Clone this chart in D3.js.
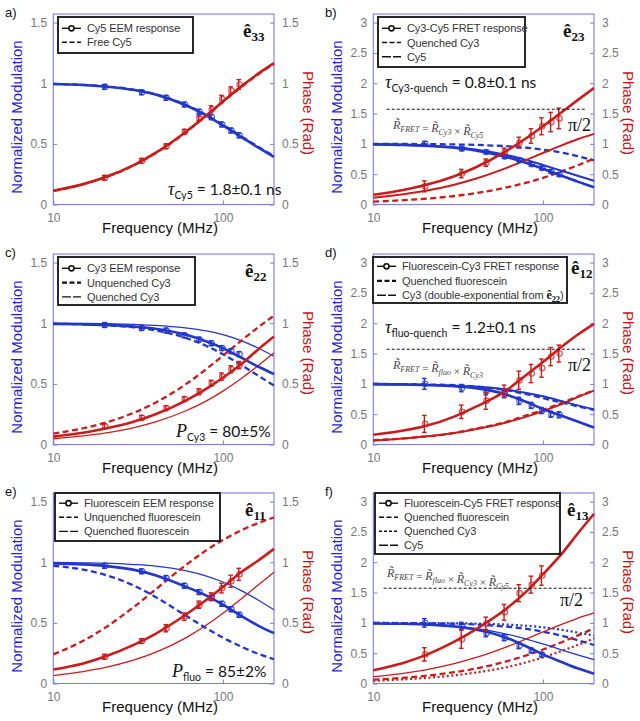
<!DOCTYPE html>
<html><head><meta charset="utf-8">
<script src="https://cdn.jsdelivr.net/npm/d3@7"></script>
<style>body{margin:0;background:#fff}svg{display:block}</style>
</head><body>
<svg id="c" width="640" height="721"></svg>
<script>
// ---------- data ----------
const freqGrid = [10, 15, 20, 30, 40, 60, 80, 100, 130, 160, 200];
const dataFreqs = [20, 33, 46, 59, 72, 85, 98, 111, 124];
const ticksHalfPi = [0, 0.5, 1, 1.5];
const ticksPi = [0, 0.5, 1, 1.5, 2, 2.5, 3];
const xTickValues = [10, 100];

// panel a
const aFitMod  = [0.993,0.985,0.973,0.944,0.907,0.820,0.733,0.652,0.552,0.473,0.392];
const aFitPh   = [0.113,0.168,0.222,0.327,0.425,0.596,0.736,0.850,0.980,1.075,1.165];
const aFreeMod = [0.994,0.986,0.975,0.946,0.909,0.824,0.737,0.657,0.557,0.479,0.398];
const aFreePh  = [0.112,0.167,0.221,0.325,0.423,0.593,0.733,0.846,0.975,1.070,1.160];
const aPtMod    = [0.97,0.925,0.88,0.825,0.765,0.72,0.66,0.61,0.57];
const aPtModErr = [0.02,0.02,0.02,0.02,0.02,0.02,0.02,0.02,0.02];
const aPtPh     = [0.22,0.36,0.48,0.60,0.71,0.785,0.87,0.94,0.99];
const aPtPhErr  = [0.02,0.02,0.02,0.02,0.02,0.03,0.03,0.03,0.04];

// panel b
const bFretMod = [0.992,0.983,0.969,0.935,0.892,0.789,0.686,0.590,0.471,0.377,0.285];
const bFretPh  = [0.160,0.239,0.316,0.467,0.611,0.872,1.096,1.290,1.530,1.721,1.921];
const bCy3Mod  = [0.999,0.998,0.996,0.990,0.983,0.962,0.936,0.905,0.853,0.798,0.728];
const bCy3Ph   = [0.047,0.071,0.094,0.140,0.186,0.276,0.360,0.440,0.550,0.646,0.756];
const bCy5Mod  = [0.993,0.985,0.973,0.944,0.907,0.820,0.733,0.652,0.552,0.473,0.392];
const bCy5Ph   = [0.113,0.168,0.222,0.327,0.425,0.596,0.736,0.850,0.980,1.075,1.165];
const bPtMod    = [1.0,0.92,0.865,0.79,0.735,0.665,0.60,0.545,0.495];
const bPtModErr = [0.04,0.03,0.03,0.03,0.03,0.03,0.03,0.03,0.03];
const bPtPh     = [0.30,0.51,0.69,0.87,1.02,1.13,1.29,1.36,1.42];
const bPtPhErr  = [0.09,0.07,0.06,0.06,0.09,0.12,0.14,0.16,0.17];

// panel c
const cFitMod = [0.995,0.991,0.986,0.972,0.955,0.907,0.850,0.795,0.712,0.645,0.580];
const cFitPh  = [0.065,0.097,0.130,0.190,0.250,0.360,0.460,0.550,0.670,0.780,0.890];
const cUnqMod = [0.996,0.991,0.984,0.965,0.941,0.880,0.812,0.744,0.650,0.571,0.486];
const cUnqPh  = [0.090,0.134,0.178,0.263,0.345,0.494,0.623,0.732,0.863,0.963,1.063];
const cQMod   = [0.999,0.998,0.996,0.990,0.983,0.962,0.936,0.905,0.853,0.798,0.728];
const cQPh    = [0.047,0.071,0.094,0.140,0.186,0.276,0.360,0.440,0.550,0.646,0.756];
const cPtMod    = [0.985,0.96,0.94,0.90,0.865,0.835,0.795,0.77,0.745];
const cPtModErr = [0.02,0.02,0.02,0.02,0.02,0.02,0.02,0.02,0.02];
const cPtPh     = [0.15,0.22,0.30,0.375,0.435,0.505,0.56,0.62,0.655];
const cPtPhErr  = [0.02,0.02,0.02,0.02,0.025,0.025,0.03,0.03,0.03];

// panel d
const dFretMod = [0.995,0.990,0.980,0.960,0.930,0.830,0.700,0.585,0.470,0.380,0.280];
const dFretPh  = [0.16,0.23,0.30,0.46,0.62,0.88,1.15,1.36,1.62,1.81,1.99];
const dQfMod   = [0.998,0.995,0.990,0.978,0.958,0.898,0.830,0.765,0.690,0.630,0.570];
const dQfPh    = [0.07,0.10,0.13,0.19,0.26,0.37,0.48,0.57,0.69,0.79,0.89];
const dCy3Mod  = [0.995,0.991,0.986,0.972,0.955,0.907,0.850,0.795,0.712,0.645,0.580];
const dCy3Ph   = [0.065,0.097,0.130,0.190,0.250,0.360,0.460,0.550,0.670,0.780,0.890];
const dPtMod    = [1.0,0.93,0.88,0.83,0.72,0.645,0.56,0.50,0.49];
const dPtModErr = [0.09,0.06,0.06,0.06,0.06,0.05,0.05,0.05,0.05];
const dPtPh     = [0.34,0.54,0.72,0.88,1.06,1.17,1.26,1.45,1.50];
const dPtPhErr  = [0.14,0.11,0.14,0.10,0.15,0.15,0.15,0.15,0.14];

// panel e
const eFitMod = [0.990,0.982,0.970,0.937,0.893,0.800,0.725,0.650,0.552,0.480,0.415];
const eFitPh  = [0.115,0.165,0.220,0.320,0.410,0.565,0.690,0.795,0.925,1.010,1.110];
const eUnqMod = [0.971,0.939,0.898,0.806,0.714,0.562,0.455,0.378,0.300,0.247,0.200];
const eUnqPh  = [0.240,0.352,0.456,0.634,0.775,0.973,1.100,1.183,1.267,1.321,1.369];
const eQMod   = [0.998,0.995,0.992,0.981,0.968,0.931,0.886,0.837,0.762,0.691,0.608];
const eQPh    = [0.065,0.098,0.130,0.194,0.256,0.374,0.482,0.579,0.705,0.808,0.918];
const ePtMod    = [0.97,0.925,0.87,0.806,0.754,0.704,0.657,0.613,0.566];
const ePtModErr = [0.02,0.02,0.02,0.02,0.02,0.02,0.02,0.02,0.02];
const ePtPh     = [0.22,0.35,0.456,0.552,0.65,0.718,0.787,0.843,0.90];
const ePtPhErr  = [0.02,0.02,0.03,0.03,0.03,0.03,0.04,0.05,0.05];

// panel f
const fFretMod = [0.990,0.985,0.975,0.940,0.890,0.760,0.610,0.480,0.350,0.250,0.160];
const fFretPh  = [0.22,0.34,0.46,0.69,0.89,1.22,1.52,1.80,2.15,2.47,2.80];
const fQfMod   = [0.998,0.996,0.993,0.985,0.973,0.940,0.900,0.855,0.785,0.715,0.635];
const fQfPh    = [0.063,0.094,0.125,0.186,0.245,0.360,0.465,0.560,0.685,0.790,0.910];
const fQcMod   = [0.999,0.998,0.997,0.993,0.988,0.973,0.952,0.927,0.885,0.840,0.790];
const fQcPh    = [0.045,0.068,0.090,0.135,0.180,0.265,0.350,0.430,0.540,0.635,0.745];
const fCy5Mod  = [0.993,0.985,0.973,0.944,0.907,0.820,0.733,0.652,0.552,0.473,0.392];
const fCy5Ph   = [0.113,0.168,0.222,0.327,0.425,0.596,0.736,0.850,0.980,1.075,1.165];
const fPtMod    = [1.0,0.95,0.83,0.755,0.625,0.545,0.475];
const fPtModErr = [0.07,0.06,0.06,0.05,0.05,0.04,0.04];
const fPtPh     = [0.48,0.73,0.985,1.175,1.49,1.63,1.78];
const fPtPhErr  = [0.11,0.15,0.11,0.13,0.14,0.14,0.16];

// ---------- layout / style ----------
const svg = d3.select("#c");
const COLW = 320, rowY = [0, 240, 479];
const L = 53.3, R = 274, T = 14, B = 204.5;
const BLUE = "#2236cc", RED = "#cc1b1b", FRAME = "#7b7be4";
const SANS = "'Liberation Sans', Arial, sans-serif";
const SERIF = "'Liberation Serif', 'Times New Roman', serif";
const styles = {
  thick: {w: 2.6, dash: null},
  med:   {w: 2.0, dash: null},
  thin:  {w: 1.3, dash: null},
  dash:  {w: 2.3, dash: "6,3.5"},
  dot:   {w: 2.2, dash: "2,2.6"}
};
const legStyles = {
  dash:  {w: 1.6, dash: "5,2.5"},
  dashB: {w: 2.2, dash: "5,2.5"},
  long:  {w: 1.4, dash: "9,2"},
  short: {w: 1.5, dash: "3,2"},
  solid: {w: 1.6, dash: null}
};

function eHat(g, x, y, s) {
  const t = g.append("text").attr("x", x).attr("y", y)
    .attr("font-family", SERIF).attr("font-weight", "bold").attr("fill", "#111");
  t.append("tspan").attr("font-size", 19).text("ê");
  t.append("tspan").attr("font-size", 13).attr("dy", 4).text(s);
}

function symText(g, x, y, sym, s, rest) {
  const t = g.append("text").attr("x", x).attr("y", y).attr("fill", "#111");
  t.append("tspan").attr("font-family", SERIF).attr("font-style", "italic").attr("font-size", 18).text(sym);
  t.append("tspan").attr("font-family", "Lato, sans-serif").attr("font-size", 10.5).attr("dy", 4).text(s);
  t.append("tspan").attr("font-family", "Lato, sans-serif").attr("font-size", 15.5).attr("dy", -4).attr("dx", 4).text(rest);
}

function formula(g, x, y, parts) {
  const t = g.append("text").attr("x", x).attr("y", y).attr("fill", "#444")
    .attr("font-family", SERIF).attr("font-style", "italic");
  parts.forEach(p => {
    if (typeof p === "string") {
      t.append("tspan").attr("font-size", 11).attr("font-style", "normal").text(p);
    } else {
      t.append("tspan").attr("font-size", 12).text("R\u0303");
      t.append("tspan").attr("font-size", 8).attr("dy", 3).text(p[0]);
      t.append("tspan").attr("font-size", 11).attr("dy", -3).text("");
    }
  });
}

function halfPi(g, x, y, f0, f1, tx, ty) {
  g.append("line").attr("x1", x(f0)).attr("x2", x(f1))
    .attr("y1", y(Math.PI / 2)).attr("y2", y(Math.PI / 2))
    .attr("stroke", "#111").attr("stroke-width", 1.2).attr("stroke-dasharray", "3,2");
  g.append("text").attr("x", tx).attr("y", ty).attr("font-family", SERIF)
    .attr("font-size", 18).attr("fill", "#111").text("π/2");
}

const panels = [
  { label: "a)", col: 0, row: 0, yMax: Math.PI / 2, ticks: ticksHalfPi,
    curves: [
      {mod: aFreeMod, ph: aFreePh, st: "dash"},
      {mod: aFitMod, ph: aFitPh, st: "thick"}],
    pts: {mod: aPtMod, modErr: aPtModErr, ph: aPtPh, phErr: aPtPhErr},
    legend: {x: 58, y: 17, w: 135, h: 36, oy: 11.3, step: 14,
      items: [{t: "marker", s: "Cy5 EEM response"}, {t: "dash", s: "Free Cy5"}]},
    extra: (g, x, y) => {
      eHat(g, 243, 37, "33");
      symText(g, 168, 195, "τ", "Cy5", "= 1.8±0.1 ns");
    }},
  { label: "b)", col: 1, row: 0, yMax: Math.PI, ticks: ticksPi,
    curves: [
      {mod: bCy3Mod, ph: bCy3Ph, st: "dash"},
      {mod: bCy5Mod, ph: bCy5Ph, st: "med"},
      {mod: bFretMod, ph: bFretPh, st: "thick"}],
    pts: {mod: bPtMod, modErr: bPtModErr, ph: bPtPh, phErr: bPtPhErr},
    legend: {x: 58, y: 17, w: 147, h: 50, oy: 11.3, step: 14.2,
      items: [{t: "marker", s: "Cy3-Cy5 FRET response"}, {t: "dash", s: "Quenched Cy3"}, {t: "long", s: "Cy5"}]},
    extra: (g, x, y) => {
      eHat(g, 243, 37, "23");
      symText(g, 65, 88, "τ", "Cy3-quench", "= 0.8±0.1 ns");
      halfPi(g, x, y, 12, 180, 248, 131);
      formula(g, 73, 129, [["FRET"], " = ", ["Cy3"], " × ", ["Cy5"]]);
    }},
  { label: "c)", col: 0, row: 1, yMax: Math.PI / 2, ticks: ticksHalfPi,
    curves: [
      {mod: cQMod, ph: cQPh, st: "thin"},
      {mod: cUnqMod, ph: cUnqPh, st: "dash"},
      {mod: cFitMod, ph: cFitPh, st: "thick"}],
    pts: {mod: cPtMod, modErr: cPtModErr, ph: cPtPh, phErr: cPtPhErr},
    legend: {x: 58, y: 17, w: 137, h: 48, oy: 11.3, step: 14.3,
      items: [{t: "marker", s: "Cy3 EEM response"}, {t: "dashB", s: "Unquenched Cy3"}, {t: "long", s: "Quenched Cy3"}]},
    extra: (g, x, y) => {
      eHat(g, 245, 37, "22");
      symText(g, 176, 197, "P", "Cy3", "= 80±5%");
    }},
  { label: "d)", col: 1, row: 1, yMax: Math.PI, ticks: ticksPi,
    curves: [
      {mod: dCy3Mod, ph: dCy3Ph, st: "med"},
      {mod: dQfMod, ph: dQfPh, st: "dash"},
      {mod: dFretMod, ph: dFretPh, st: "thick"}],
    pts: {mod: dPtMod, modErr: dPtModErr, ph: dPtPh, phErr: dPtPhErr},
    legend: {x: 53, y: 17, w: 194, h: 46, oy: 9.3, step: 14.5,
      items: [{t: "marker", s: "Fluorescein-Cy3 FRET response"}, {t: "dashB", s: "Quenched fluorescein"},
              {t: "long", s: "Cy3 (double-exponential from ", hat: "22", after: ")"}]},
    extra: (g, x, y) => {
      eHat(g, 251, 34, "12");
      symText(g, 65, 93, "τ", "fluo-quench", "= 1.2±0.1 ns");
      halfPi(g, x, y, 12, 180, 248, 131);
      formula(g, 73, 129, [["FRET"], " = ", ["fluo"], " × ", ["Cy3"]]);
    }},
  { label: "e)", col: 0, row: 2, yMax: Math.PI / 2, ticks: ticksHalfPi,
    curves: [
      {mod: eQMod, ph: eQPh, st: "thin"},
      {mod: eUnqMod, ph: eUnqPh, st: "dash"},
      {mod: eFitMod, ph: eFitPh, st: "thick"}],
    pts: {mod: ePtMod, modErr: ePtModErr, ph: ePtPh, phErr: ePtPhErr},
    legend: {x: 55, y: 14, w: 165, h: 48, oy: 10.2, step: 14.1,
      items: [{t: "marker", s: "Fluorescein EEM response"}, {t: "dash", s: "Unquenched fluorescein"}, {t: "long", s: "Quenched fluorescein"}]},
    extra: (g, x, y) => {
      eHat(g, 245, 37, "11");
      symText(g, 172, 198, "P", "fluo", "= 85±2%");
    }},
  { label: "f)", col: 1, row: 2, yMax: Math.PI, ticks: ticksPi,
    curves: [
      {mod: fQcMod, ph: fQcPh, st: "dot"},
      {mod: fQfMod, ph: fQfPh, st: "dash"},
      {mod: fCy5Mod, ph: fCy5Ph, st: "thin"},
      {mod: fFretMod, ph: fFretPh, st: "thick"}],
    pts: {mod: fPtMod, modErr: fPtModErr, ph: fPtPh, phErr: fPtPhErr},
    legend: {x: 55, y: 14, w: 185, h: 61, oy: 10.2, step: 14,
      items: [{t: "marker", s: "Fluorescein-Cy5 FRET response"}, {t: "dash", s: "Quenched fluorescein"},
              {t: "short", s: "Quenched Cy3"}, {t: "long", s: "Cy5"}]},
    extra: (g, x, y) => {
      eHat(g, 247, 37, "13");
      halfPi(g, x, y, 11.5, 195, 240, 127);
      formula(g, 67, 98, [["FRET"], " = ", ["fluo"], " × ", ["Cy3"], " × ", ["Cy5"]]);
    }}
];

function drawPanel(p) {
  const g = svg.append("g").attr("transform", `translate(${p.col * COLW},${rowY[p.row]})`);
  const x = d3.scaleLog().domain([10, 200]).range([L, R]);
  const y = d3.scaleLinear().domain([0, p.yMax]).range([B, T]);

  const styleAxis = (sel) => {
    sel.select(".domain").remove();
    sel.selectAll(".tick line").attr("stroke", FRAME);
    sel.selectAll(".tick text").attr("fill", "#777").style("font-family", SANS).style("font-size", "12px");
  };
  g.append("g").attr("transform", `translate(${L},0)`)
    .call(d3.axisLeft(y).tickValues(p.ticks).tickSize(-4).tickPadding(6).tickFormat(d => String(d)))
    .call(styleAxis);
  g.append("g").attr("transform", `translate(${R},0)`)
    .call(d3.axisRight(y).tickValues(p.ticks).tickSize(-4).tickPadding(8).tickFormat(d => String(d)))
    .call(styleAxis);
  g.append("g").attr("transform", `translate(0,${B})`)
    .call(d3.axisBottom(x).tickValues(xTickValues).tickSize(-4).tickPadding(9).tickFormat(d3.format("d")))
    .call(styleAxis);

  g.append("rect").attr("x", L).attr("y", T).attr("width", R - L).attr("height", B - T)
    .attr("fill", "none").attr("stroke", FRAME).attr("stroke-width", 1.1);

  const line = d3.line().x((d, i) => x(freqGrid[i])).y(d => y(d)).curve(d3.curveMonotoneX);
  p.curves.forEach(c => {
    const st = styles[c.st];
    [[c.mod, BLUE], [c.ph, RED]].forEach(([vals, col]) => {
      g.append("path").attr("d", line(vals)).attr("fill", "none")
        .attr("stroke", col).attr("stroke-width", st.w)
        .attr("stroke-dasharray", st.dash).attr("stroke-linecap", "butt");
    });
  });

  const pt = p.pts;
  [[pt.mod, pt.modErr, BLUE], [pt.ph, pt.phErr, RED]].forEach(([vals, errs, col]) => {
    vals.forEach((v, i) => {
      const cx = x(dataFreqs[i]);
      const y0 = y(v - errs[i]), y1 = y(v + errs[i]);
      g.append("line").attr("x1", cx).attr("x2", cx).attr("y1", y0).attr("y2", y1)
        .attr("stroke", col).attr("stroke-width", 1.4);
      [y0, y1].forEach(yy => g.append("line").attr("x1", cx - 2.3).attr("x2", cx + 2.3)
        .attr("y1", yy).attr("y2", yy).attr("stroke", col).attr("stroke-width", 1.4));
      g.append("circle").attr("cx", cx + 0.8).attr("cy", y(v)).attr("r", 2.7)
        .attr("fill", "none").attr("stroke", col).attr("stroke-width", 1.2).attr("stroke-opacity", 0.75);
    });
  });

  // legend
  const lg = p.legend;
  g.append("rect").attr("x", lg.x).attr("y", lg.y).attr("width", lg.w).attr("height", lg.h)
    .attr("fill", "#fff").attr("stroke", "#111").attr("stroke-width", 1.8);
  lg.items.forEach((it, i) => {
    const cy = lg.y + lg.oy + i * lg.step;
    const x0 = lg.x + 4, x1 = lg.x + 23;
    if (it.t === "marker") {
      g.append("line").attr("x1", x0).attr("x2", x1).attr("y1", cy).attr("y2", cy)
        .attr("stroke", "#111").attr("stroke-width", 1.4);
      g.append("circle").attr("cx", (x0 + x1) / 2).attr("cy", cy).attr("r", 2.6)
        .attr("fill", "#fff").attr("stroke", "#111").attr("stroke-width", 1.6);
    } else {
      const st = legStyles[it.t];
      g.append("line").attr("x1", x0).attr("x2", x1).attr("y1", cy).attr("y2", cy)
        .attr("stroke", "#111").attr("stroke-width", st.w).attr("stroke-dasharray", st.dash);
    }
    const t = g.append("text").attr("x", lg.x + 29).attr("y", cy + 4)
      .attr("font-family", SANS).attr("font-size", 11).attr("letter-spacing", -0.1).attr("fill", "#333");
    t.append("tspan").text(it.s);
    if (it.hat) {
      t.append("tspan").attr("font-family", SERIF).attr("font-weight", "bold").attr("font-size", 12).attr("fill", "#111").text("ê");
      t.append("tspan").attr("font-family", SERIF).attr("font-weight", "bold").attr("font-size", 8.5).attr("dy", 3).attr("fill", "#111").text(it.hat);
      t.append("tspan").attr("dy", -3).text(it.after);
    }
  });

  p.extra(g, x, y);

  // titles
  g.append("text").attr("x", 5).attr("y", 17).attr("font-family", SANS).attr("font-size", 13)
    .attr("fill", "#111").text(p.label);
  g.append("text").attr("x", 160).attr("y", 233).attr("text-anchor", "middle")
    .attr("font-family", SANS).attr("font-size", 15).attr("fill", "#111").text("Frequency (MHz)");
  g.append("text").attr("transform", `translate(22,117) rotate(-90)`).attr("text-anchor", "middle")
    .attr("font-family", SANS).attr("font-size", 15).attr("fill", "#1f1fe0").text("Normalized Modulation");
  g.append("text").attr("transform", `translate(303,113) rotate(90)`).attr("text-anchor", "middle")
    .attr("font-family", SANS).attr("font-size", 15).attr("fill", "#cc1010").text("Phase (Rad)");
}

panels.forEach(drawPanel);
</script>
</body></html>
